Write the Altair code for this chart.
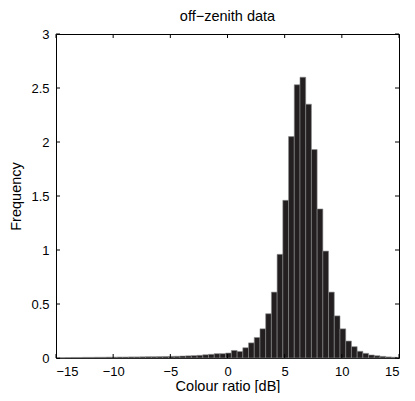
import altair as alt
import pandas as pd

# Histogram bins (left edges start, bin width in dB)
BIN_START = -14.66
BIN_WIDTH = 0.5
freq = [
    0.003, 0.004, 0.005, 0.005, 0.006, 0.006, 0.007, 0.007, 0.008, 0.008,
    0.009, 0.009, 0.010, 0.010, 0.011, 0.012, 0.012, 0.013, 0.014, 0.015,
    0.016, 0.018, 0.020, 0.022, 0.025, 0.030, 0.034, 0.040,
    0.040, 0.046, 0.070, 0.060, 0.095, 0.140, 0.190, 0.270, 0.410, 0.610,
    0.960, 1.460, 2.050, 2.530, 2.600, 2.350, 1.930, 1.380, 0.990, 0.610,
    0.390, 0.270, 0.157, 0.105, 0.062, 0.043, 0.028, 0.021, 0.015, 0.010,
    0.007,
]
x_ticks = [-15, -10, -5, 0, 5, 10, 15]
y_ticks = [0, 0.5, 1, 1.5, 2, 2.5, 3]

W, H = 343, 324
TL = 4
FONT = "Liberation Sans"
TFS = 14.5

df = pd.DataFrame({
    "x0": [BIN_START + i * BIN_WIDTH for i in range(len(freq))],
    "freq": freq,
})
df["x1"] = df["x0"] + BIN_WIDTH

xs = alt.Scale(domain=[-15, 15], nice=False, zero=False)
ys = alt.Scale(domain=[0, 3], nice=False)
minus = "replace(toString(datum.value), '-', '\u2212')"

x_axis = alt.Axis(
    values=x_ticks, title="Colour ratio [dB]", grid=False, domain=False,
    tickSize=0, labelPadding=7, labelExpr=minus, titlePadding=1,
    labelFont=FONT, titleFont=FONT, labelFontSize=13, titleFontSize=TFS,
    labelColor="black", titleColor="black", titleFontWeight="normal")
y_axis = alt.Axis(
    values=y_ticks, title="Frequency", grid=False, domain=False,
    tickSize=0, labelPadding=7, labelExpr=minus, titlePadding=7,
    labelFont=FONT, titleFont=FONT, labelFontSize=13, titleFontSize=TFS,
    labelColor="black", titleColor="black", titleFontWeight="normal")

bars = alt.Chart(df).mark_bar(
    color="#231f20", stroke="#8c8c8c", strokeWidth=0.6
).encode(
    x=alt.X("x0:Q", scale=xs, axis=x_axis),
    x2="x1:Q",
    y=alt.Y("freq:Q", scale=ys, axis=y_axis),
    y2=alt.datum(0),
)

xt = pd.DataFrame({"t": x_ticks})
yt = pd.DataFrame({"t": y_ticks})

bottom_ticks = alt.Chart(xt).mark_rule(color="black", strokeWidth=1).encode(
    x=alt.X("t:Q", scale=xs, axis=x_axis), y=alt.value(H), y2=alt.value(H - TL))
top_ticks = alt.Chart(xt).mark_rule(color="black", strokeWidth=1).encode(
    x=alt.X("t:Q", scale=xs, axis=x_axis), y=alt.value(0), y2=alt.value(TL))
left_ticks = alt.Chart(yt).mark_rule(color="black", strokeWidth=1).encode(
    y=alt.Y("t:Q", scale=ys, axis=y_axis), x=alt.value(0), x2=alt.value(TL))
right_ticks = alt.Chart(yt).mark_rule(color="black", strokeWidth=1).encode(
    y=alt.Y("t:Q", scale=ys, axis=y_axis), x=alt.value(W - TL), x2=alt.value(W))

chart = alt.layer(bars, bottom_ticks, top_ticks, left_ticks, right_ticks).properties(
    width=W, height=H,
    title=alt.TitleParams("off\u2212zenith data", font=FONT, fontSize=TFS,
                          fontWeight="normal", color="black", offset=4),
    autosize=alt.AutoSizeParams(type="none"),
    padding={"left": 48, "top": 26, "right": 8, "bottom": 35},
    background="white",
).configure_view(stroke="black", strokeWidth=1)

chart.save("out.html", embed_options={"renderer": "svg", "actions": False})
